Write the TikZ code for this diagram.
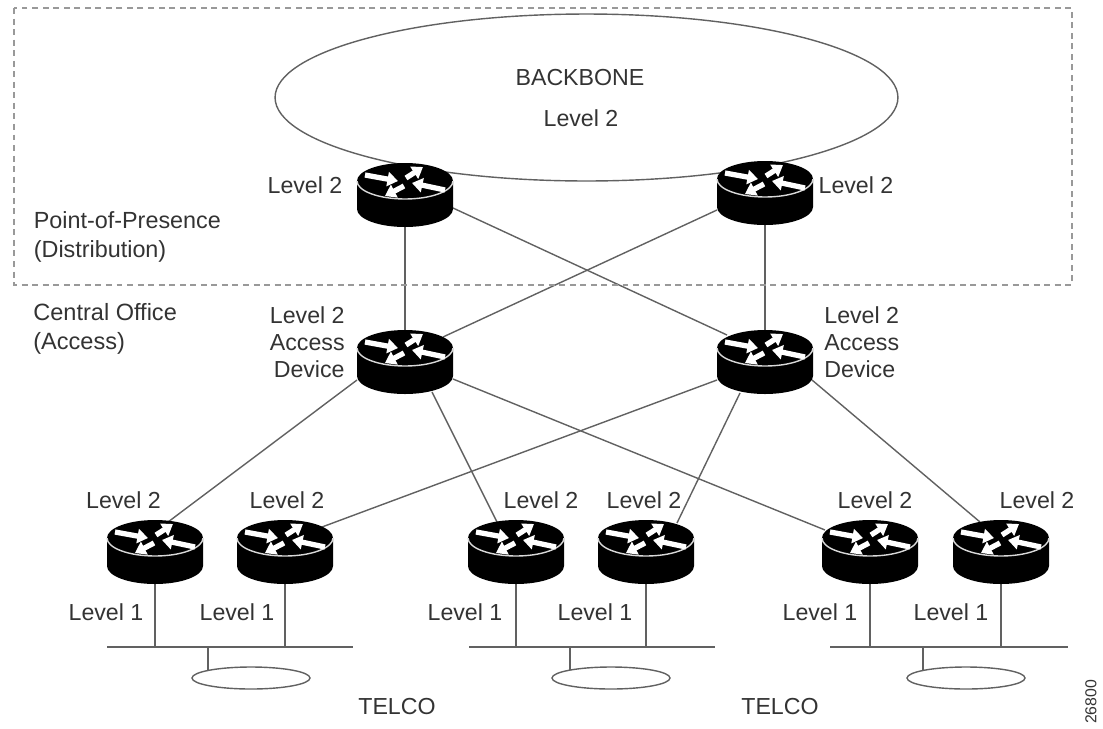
\documentclass[tikz,border=0pt]{standalone}
\usepackage{fontspec}
\setmainfont{Liberation Sans}
\usetikzlibrary{arrows.meta,backgrounds,shapes.geometric}
\colorlet{linecol}{black!62}
\tikzset{
	lbl/.style={inner sep=0pt,text=black!80,font=\fontsize{13.2}{15.5}\selectfont},
	link/.style={draw=linecol,line width=.8pt},
	rarrow/.style={draw=white,line width=3pt,-{Triangle[length=6pt,width=8pt]}},
	router/.style={minimum width=1.96cm,minimum height=1.32cm,inner sep=0pt,
		path picture={
			\begin{scope}[shift={(path picture bounding box.center)}]
				\fill[black] (-48,-14) -- (-48,14) arc[start angle=180,end angle=0,x radius=48,y radius=18]
					-- (48,-14) arc[start angle=0,end angle=-180,x radius=48,y radius=18] -- cycle;
				\draw[white!85!black,line width=.8pt] (-48,-14) arc[start angle=180,end angle=0,x radius=48,y radius=18];
				\draw[rarrow] (-40,-20)--(-7,-14);
				\draw[rarrow] (1,-17)--(18,-28);
				\draw[rarrow] (40,-5)--(7,-12);
				\draw[rarrow] (-1,-9)--(-20,1);
			\end{scope}
		}},
	wan/.style={draw=linecol,line width=.8pt,ellipse,inner sep=0pt,minimum width=2.36cm,minimum height=.44cm},
}
\begin{document}
\begin{tikzpicture}[x=.02cm,y=-.02cm]
	\useasboundingbox (0,0) rectangle (1103,728);
	\draw[black!40,line width=1pt,dash pattern=on 3.4pt off 2.6pt] (14,8) rectangle (1072,285);
	\node[draw=linecol,line width=.8pt,ellipse,inner sep=0pt,minimum width=12.46cm,minimum height=3.34cm] (bone) at (586.5,97.5) {};
	% routers
	\node[router] (popA) at (405,195) {};
	\node[router] (popB) at (765,193) {};
	\node[router] (accA) at (405,362) {};
	\node[router] (accB) at (765,362) {};
	\node[router] (gwA) at (155,552) {};
	\node[router] (gwB) at (285,552) {};
	\node[router] (gwC) at (516,552) {};
	\node[router] (gwD) at (646,552) {};
	\node[router] (gwE) at (870,552) {};
	\node[router] (gwF) at (1001,552) {};
	% telco segments
	\coordinate (busAl) at (107,647);
	\coordinate (busAr) at (353,647);
	\coordinate (busBl) at (469,647);
	\coordinate (busBr) at (715,647);
	\coordinate (busCl) at (830,647);
	\coordinate (busCr) at (1068,647);
	\coordinate (tapA) at (208,647);
	\coordinate (tapB) at (570,647);
	\coordinate (tapC) at (923,647);
	\coordinate (endA) at (208,670);
	\coordinate (endB) at (570,670);
	\coordinate (endC) at (923,670);
	\node[wan] (wanA) at (251,678) {};
	\node[wan] (wanB) at (611,678) {};
	\node[wan] (wanC) at (966,678) {};
	\begin{scope}[on background layer]
		\draw[link] (popA.center)--(accA.center) (popB.center)--(accB.center);
		\draw[link] ([shift={(48,13)}]popA.center)--([shift={(-38,-27)}]accB.center);
		\draw[link] ([shift={(-48,17)}]popB.center)--([shift={(38,-25)}]accA.center);
		\draw[link] ([shift={(-48,18)}]accA.center)--([shift={(13,-30)}]gwA.center);
		\draw[link] ([shift={(27,30)}]accA.center)--([shift={(-19,-30)}]gwC.center);
		\draw[link] ([shift={(48,17)}]accA.center)--([shift={(-45,-22)}]gwE.center);
		\draw[link] ([shift={(-48,18)}]accB.center)--([shift={(37,-25)}]gwB.center);
		\draw[link] ([shift={(-25,31)}]accB.center)--([shift={(31,-29)}]gwD.center);
		\draw[link] ([shift={(47,18)}]accB.center)--([shift={(-21,-30)}]gwF.center);
		\draw[link] (busAl)--(busAr) (busBl)--(busBr) (busCl)--(busCr);
		\draw[link] (gwA.center)--(gwA.center|-busAl) (gwB.center)--(gwB.center|-busAl);
		\draw[link] (gwC.center)--(gwC.center|-busBl) (gwD.center)--(gwD.center|-busBl);
		\draw[link] (gwE.center)--(gwE.center|-busCl) (gwF.center)--(gwF.center|-busCl);
		\draw[link] (tapA)--(endA) (tapB)--(endB) (tapC)--(endC);
	\end{scope}
	% labels
	\node[lbl] (tBone) at (580,78) {BACKBONE};
	\node[lbl] (tBoneL) at (581,118) {Level 2};
	\node[lbl] (tPopA) at (305,185) {Level 2};
	\node[lbl] (tPopB) at (856,185) {Level 2};
	\node[lbl,anchor=west,align=left,font=\fontsize{13.3}{17}\selectfont] (tPop) at (33.5,237) {Point-of-Presence\\(Distribution)};
	\node[lbl,anchor=west,align=left,font=\fontsize{13.4}{16.4}\selectfont] (tCo) at (33,329) {Central Office\\(Access)};
	\node[lbl,anchor=east,align=right] (tAccA) at (345,342) {Level 2\\Access\\Device};
	\node[lbl,anchor=west,align=left] (tAccB) at (824,342) {Level 2\\Access\\Device};
	\node[lbl] (tGwA) at (123.5,500) {Level 2};
	\node[lbl] (tGwB) at (287,500) {Level 2};
	\node[lbl] (tGwC) at (541,500) {Level 2};
	\node[lbl] (tGwD) at (644,500) {Level 2};
	\node[lbl] (tGwE) at (875,500) {Level 2};
	\node[lbl] (tGwF) at (1037,500) {Level 2};
	\node[lbl] (tLanA) at (106,612) {Level 1};
	\node[lbl] (tLanB) at (237,612) {Level 1};
	\node[lbl] (tLanC) at (465,612) {Level 1};
	\node[lbl] (tLanD) at (595,612) {Level 1};
	\node[lbl] (tLanE) at (820,612) {Level 1};
	\node[lbl] (tLanF) at (951,612) {Level 1};
	\node[lbl] (tTelA) at (397,707) {TELCO};
	\node[lbl] (tTelB) at (780,707) {TELCO};
	\node[lbl,rotate=90,font=\fontsize{9}{10}\selectfont] (tNum) at (1091,702) {26800};
\end{tikzpicture}
\end{document}
